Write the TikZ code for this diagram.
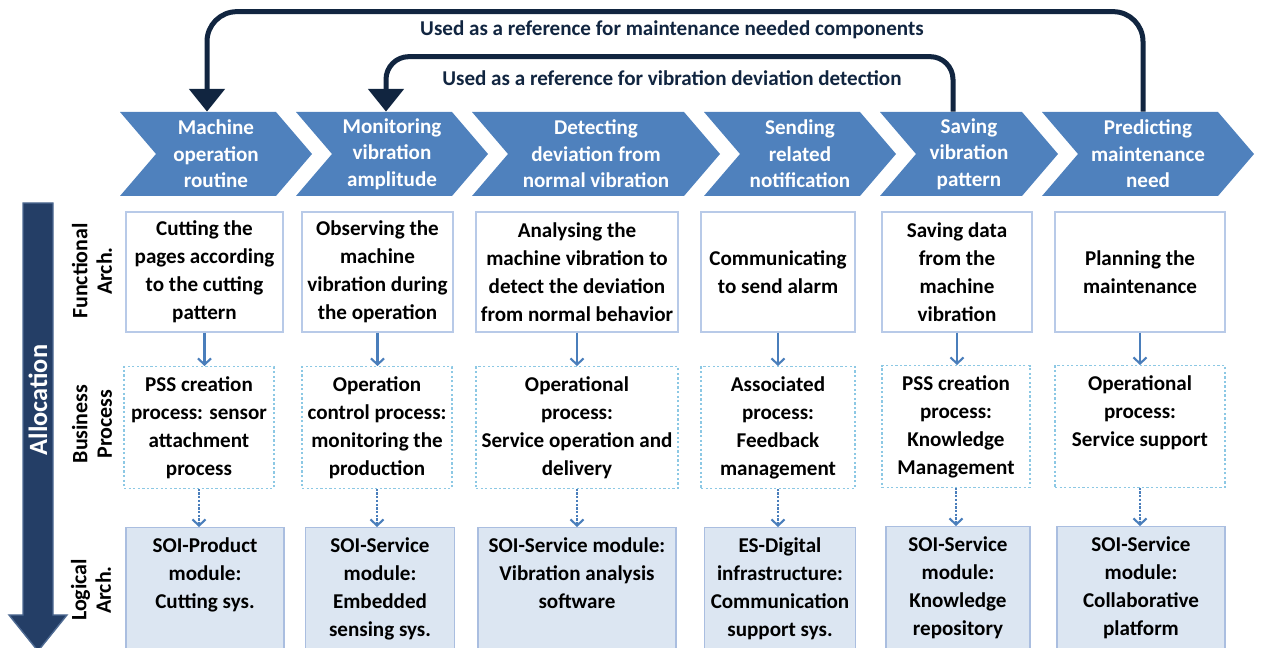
\documentclass[tikz,border=0pt]{standalone}
\usepackage{fontspec}
\setmainfont{Carlito}
\definecolor{phaseblue}{RGB}{79,129,189}
\definecolor{refnavy}{RGB}{17,37,64}
\definecolor{allocnavy}{RGB}{36,62,102}
\definecolor{allocedge}{RGB}{78,106,146}
\definecolor{boxline}{RGB}{184,202,232}
\definecolor{procline}{RGB}{140,200,228}
\definecolor{logicfill}{RGB}{220,230,242}
\definecolor{logicline}{RGB}{170,190,224}
\definecolor{flowblue}{RGB}{74,126,187}
\usetikzlibrary{arrows.meta}
% lines hung from the top of a box
\newcommand{\toplines}[1]{\begin{tabular}[t]{@{}c@{}}#1\end{tabular}}

\begin{document}
\begin{tikzpicture}[x=0.02cm, y=-0.02cm,
    phasetext/.style={text=white, align=center, inner sep=0pt, minimum height=1.68cm,
      font=\bfseries\fontsize{12}{15}\selectfont},
    funcbox/.style={draw=boxline, line width=0.7pt, fill=white, align=center, inner sep=2pt,
      minimum height=2.4cm, font=\bfseries\fontsize{12}{15.9}\selectfont},
    procbox/.style={draw=procline, line width=0.7pt, dash pattern=on 1.3pt off 1.3pt,
      anchor=north, inner xsep=2pt, inner ysep=3.1pt, text height=11.1pt, text depth=51.9pt,
      font=\bfseries\fontsize{12}{15.9}\selectfont},
    logicbox/.style={draw=logicline, line width=0.7pt, fill=logicfill,
      anchor=north, inner xsep=2pt, inner ysep=3.1pt, text height=11.1pt, text depth=54pt,
      font=\bfseries\fontsize{12}{15.9}\selectfont},
    rowlabel/.style={rotate=90, align=center, inner sep=0pt,
      font=\bfseries\fontsize{12.5}{14}\selectfont},
    reflabel/.style={text=refnavy, inner sep=1pt, font=\bfseries\fontsize{12}{14}\selectfont},
    refarrow/.style={draw=refnavy, line width=2.85pt, -{Triangle[width=20pt,length=13pt]}},
    flowarrow/.style={draw=flowblue, line width=1.2pt, -{Straight Barb[length=3.5pt,width=7.5pt]}},
    allocarrow/.style={flowarrow, dash pattern=on 1.3pt off 0.8pt}]
  \useasboundingbox (0,0) rectangle (1262,648);

  % phases of the scenario
  \foreach \l/\r/\n/\t in {120/276/p1/{Machine\\operation\\routine},
      296/452/p2/{Monitoring\\vibration\\amplitude},
      472/684/p3/{Detecting\\deviation from\\normal vibration},
      704/860/p4/{Sending\\related\\notification},
      880/1022/p5/{Saving\\vibration\\pattern},
      1042/1218/p6/{Predicting\\maintenance\\need}} {
    \fill[phaseblue] (\l,112) -- (\r,112) -- ({\r+36},154) -- (\r,196) -- (\l,196) -- ({\l+36},154) -- cycle;
    \node[phasetext] (\n) at ({(\l+\r+36)/2},154) {\t};
  }

  % feedback loops
  \draw[refarrow, rounded corners=17pt] ([xshift=-0.1cm]p6.north) -- ++(0,-100) -| ([xshift=-0.18cm]p1.north);
  \draw[refarrow, rounded corners=13pt] ([xshift=-0.32cm]p5.north) -- ++(0,-55) -| ([xshift=-0.12cm]p2.north);
  \node[reflabel] (refout) at (672,30) {Used as a reference for maintenance needed components};
  \node[reflabel] (refin) at (672,78) {Used as a reference for vibration deviation detection};

  % allocation axis
  \filldraw[fill=allocnavy, draw=allocedge, line width=0.8pt]
    (23,203) -- (53,203) -- (53,615) -- (67,615) -- (38,651) -- (9,615) -- (23,615) -- cycle;
  \node[rotate=90, text=white, font=\bfseries\fontsize{15}{18}\selectfont] (alloc) at (38,400) {Allocation};
  \node[rowlabel] (lfunc) at (92,271) {Functional\\Arch.};
  \node[rowlabel] (lproc) at (92,424) {Business\\Process};
  \node[rowlabel] (llogic) at (91,590) {Logical\\Arch.};

  % functional architecture
  \node[funcbox, minimum width=3.14cm] (f1) at (204.5,272) {Cutting the\\pages according\\to the cutting\\pattern};
  \node[funcbox, minimum width=3.02cm] (f2) at (377.5,272) {Observing the\\machine\\vibration during\\the operation};
  \node[funcbox, minimum width=4.04cm] (f3) at (577,272) {Analysing the\\machine vibration to\\detect the deviation\\from normal behavior};
  \node[funcbox, minimum width=3.08cm] (f4) at (778,272) {Communicating\\to send alarm};
  \node[funcbox, minimum width=3.0cm] (f5) at (957,272) {Saving data\\from the\\machine\\vibration};
  \node[funcbox, minimum width=3.4cm] (f6) at (1140,272) {Planning the\\maintenance};

  % business process
  \node[procbox, minimum width=3.0cm] (b1) at (199,366) {\toplines{PSS creation\\process: sensor\\attachment\\process}};
  \node[procbox, minimum width=3.0cm] (b2) at (377,366) {\toplines{Operation\\control process:\\monitoring the\\production}};
  \node[procbox, minimum width=4.04cm] (b3) at (577,366) {\toplines{Operational\\process:\\Service operation and\\delivery}};
  \node[procbox, minimum width=3.08cm] (b4) at (778,366) {\toplines{Associated\\process:\\Feedback\\management}};
  \node[procbox, minimum width=2.96cm] (b5) at (956,365) {\toplines{PSS creation\\process:\\Knowledge\\Management}};
  \node[procbox, minimum width=3.4cm] (b6) at (1140,365) {\toplines{Operational\\process:\\Service support}};

  % logical architecture
  \node[logicbox, minimum width=3.16cm] (l1) at (205,527) {\toplines{SOI-Product\\module:\\Cutting sys.}};
  \node[logicbox, minimum width=2.98cm] (l2) at (380,527) {\toplines{SOI-Service\\module:\\Embedded\\sensing sys.}};
  \node[logicbox, minimum width=3.96cm] (l3) at (577,527) {\toplines{SOI-Service module:\\Vibration analysis\\software}};
  \node[logicbox, minimum width=3.02cm] (l4) at (780,527) {\toplines{ES-Digital\\infrastructure:\\Communication\\support sys.}};
  \node[logicbox, minimum width=2.88cm] (l5) at (958,526) {\toplines{SOI-Service\\module:\\Knowledge\\repository}};
  \node[logicbox, minimum width=3.36cm] (l6) at (1141,526) {\toplines{SOI-Service\\module:\\Collaborative\\platform}};

  % allocation links
  \foreach \i in {1,...,6} {
    \draw[flowarrow] (f\i.south) -- (f\i.south |- b\i.north);
    \draw[allocarrow] (b\i.south) -- (b\i.south |- l\i.north);
  }
\end{tikzpicture}
\end{document}
